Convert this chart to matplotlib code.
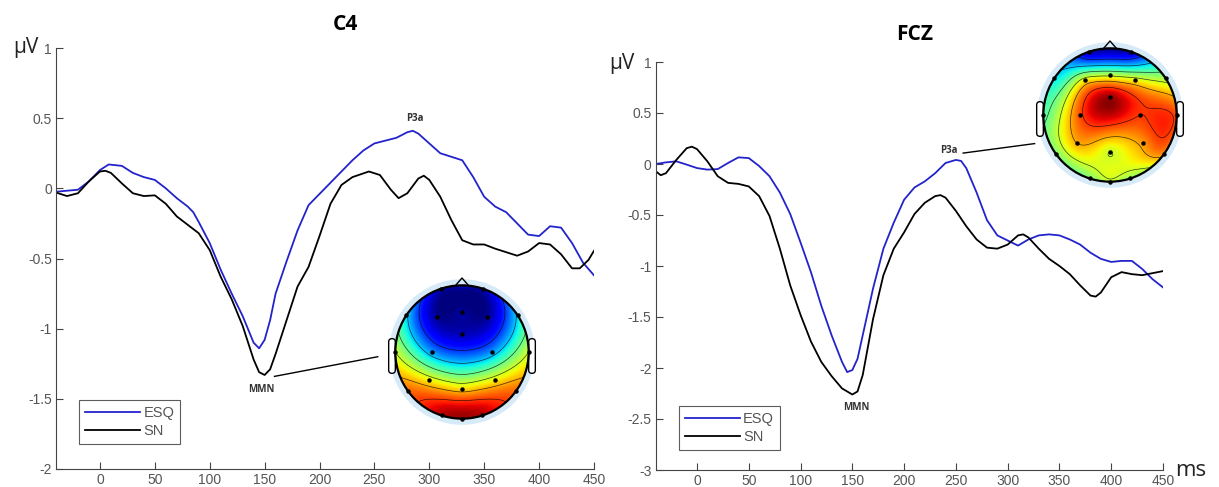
import numpy as np
import matplotlib
matplotlib.use('Agg')
import matplotlib.pyplot as plt
from matplotlib.patches import Circle, FancyBboxPatch

# ---- C4 waveforms (ms, microvolt)
t_c4_esq = [-40, -20, -10, 0, 8, 20, 30, 40, 50, 60, 70, 80, 85, 90, 100, 110, 120, 130,
            140, 145, 150, 155, 160, 170, 180, 190, 200, 210, 220, 230, 240, 250, 260, 270,
            280, 285, 290, 300, 310, 320, 330, 340, 350, 360, 370, 380, 390, 400, 410, 420,
            430, 440, 450]
c4_esq = [-0.024, -0.01, 0.05, 0.13, 0.17, 0.16, 0.11, 0.08, 0.06, 0.0, -0.07, -0.13, -0.17,
          -0.24, -0.39, -0.58, -0.75, -0.91, -1.10, -1.14, -1.08, -0.94, -0.75, -0.52, -0.30,
          -0.12, -0.04, 0.04, 0.12, 0.20, 0.27, 0.32, 0.34, 0.36, 0.40, 0.41, 0.39, 0.32, 0.25,
          0.225, 0.20, 0.08, -0.06, -0.13, -0.17, -0.25, -0.33, -0.34, -0.27, -0.28, -0.39,
          -0.53, -0.62]
t_c4_sn = [-40, -30, -20, -10, 0, 5, 10, 20, 30, 40, 50, 60, 70, 80, 90, 100, 110, 120, 130,
           140, 145, 150, 155, 160, 170, 180, 190, 200, 210, 220, 230, 245, 255, 265, 272, 280,
           290, 295, 300, 310, 320, 330, 340, 350, 360, 370, 380, 390, 400, 410, 420, 430, 437,
           445, 450]
c4_sn = [-0.03, -0.055, -0.035, 0.05, 0.12, 0.125, 0.11, 0.035, -0.035, -0.055, -0.05, -0.11,
         -0.20, -0.26, -0.32, -0.44, -0.63, -0.79, -0.98, -1.22, -1.31, -1.33, -1.29, -1.18,
         -0.94, -0.70, -0.56, -0.34, -0.11, 0.024, 0.08, 0.12, 0.095, -0.01, -0.07, -0.035,
         0.07, 0.09, 0.06, -0.06, -0.225, -0.37, -0.40, -0.40, -0.43, -0.455, -0.48, -0.45,
         -0.39, -0.40, -0.47, -0.57, -0.57, -0.51, -0.445]

# ---- FCZ waveforms
t_fcz_esq = [-40, -30, -20, -10, 0, 10, 20, 30, 40, 50, 60, 70, 80, 90, 100, 110, 120, 130,
             140, 145, 150, 155, 160, 170, 180, 190, 200, 210, 220, 230, 240, 250, 255, 260,
             270, 280, 290, 300, 310, 320, 330, 340, 350, 360, 370, 380, 390, 400, 410, 420,
             430, 440, 450]
fcz_esq = [0.0, 0.016, 0.026, -0.006, -0.04, -0.055, -0.05, 0.01, 0.065, 0.058, -0.02, -0.12,
           -0.28, -0.49, -0.77, -1.06, -1.39, -1.68, -1.94, -2.04, -2.02, -1.91, -1.68, -1.22,
           -0.83, -0.575, -0.35, -0.23, -0.17, -0.09, 0.01, 0.04, 0.03, -0.04, -0.28, -0.55,
           -0.70, -0.75, -0.80, -0.74, -0.70, -0.69, -0.70, -0.74, -0.79, -0.87, -0.93, -0.96,
           -0.95, -0.95, -1.03, -1.13, -1.21]
t_fcz_sn = [-40, -35, -30, -20, -10, -5, 0, 10, 20, 30, 40, 50, 60, 70, 80, 90, 100, 110, 120,
            130, 140, 150, 155, 160, 170, 180, 190, 200, 210, 220, 230, 235, 240, 250, 260,
            270, 280, 290, 300, 310, 315, 320, 330, 340, 350, 360, 370, 380, 385, 390, 400,
            410, 420, 430, 440, 450]
fcz_sn = [-0.07, -0.11, -0.09, 0.04, 0.155, 0.17, 0.146, 0.026, -0.12, -0.185, -0.195, -0.22,
          -0.315, -0.51, -0.83, -1.19, -1.48, -1.74, -1.94, -2.08, -2.20, -2.26, -2.23, -2.07,
          -1.52, -1.09, -0.83, -0.67, -0.49, -0.38, -0.315, -0.305, -0.33, -0.46, -0.61, -0.74,
          -0.82, -0.83, -0.79, -0.70, -0.69, -0.72, -0.83, -0.93, -1.00, -1.08, -1.19, -1.29,
          -1.30, -1.26, -1.11, -1.06, -1.08, -1.09, -1.07, -1.05]

xticks = [0, 50, 100, 150, 200, 250, 300, 350, 400, 450]

# ---- scalp maps: electrode layout and relative amplitudes (-1 .. 1)
elec = ['Fp1', 'Fp2', 'F7', 'F3', 'Fz', 'F4', 'F8', 'FCz', 'T7', 'C3', 'C4', 'T8',
        'P7', 'P3', 'Pz', 'P4', 'P8', 'O1', 'Oz', 'O2']
elec_x = [-0.31, 0.31, -0.84, -0.38, 0.0, 0.38, 0.84, 0.0, -1.0, -0.45, 0.45, 1.0,
          -0.81, -0.5, 0.0, 0.5, 0.81, -0.3, 0.0, 0.3]
elec_y = [0.95, 0.95, 0.55, 0.52, 0.6, 0.52, 0.55, 0.27, 0.0, 0.0, 0.0, 0.0,
          -0.59, -0.42, -0.55, -0.42, -0.59, -0.95, -1.0, -0.95]
map_mmn = [-0.9, -0.9, -0.3, -0.95, -0.95, -0.95, -0.3, -0.9, 0.2, -0.45, -0.45, 0.2,
           0.6, 0.3, 0.35, 0.3, 0.6, 0.9, 0.95, 0.9]
map_p3a = [-0.9, -0.9, -0.3, 0.3, 0.15, 0.3, 0.1, 0.95, -0.1, 0.65, 0.7, 0.65,
           0.0, 0.45, 0.2, 0.5, 0.5, 0.0, 0.15, 0.05]
map_levels = [-0.65, -0.35, -0.05, 0.2, 0.45, 0.7]

W, H = 1219, 487
BLUE = '#2323cc'
GRAY = '#555555'

plt.rcParams['font.family'] = ['Liberation Sans Narrow', 'Liberation Sans', 'DejaVu Sans']

fig = plt.figure(figsize=(W / 100, H / 100), dpi=100)


def px_box(x0, y0, x1, y1):
    # pixel box (top-left origin) -> figure fraction
    return [x0 / W, 1 - y1 / H, (x1 - x0) / W, (y1 - y0) / H]


def erp_axes(box, ylim, yticks):
    ax = fig.add_axes(box)
    ax.set_xlim(-40, 450)
    ax.set_ylim(*ylim)
    ax.set_xticks(xticks)
    ax.set_yticks(yticks)
    ax.set_yticklabels(['%g' % v for v in yticks])
    for s in ['top', 'right']:
        ax.spines[s].set_visible(False)
    for s in ['left', 'bottom']:
        ax.spines[s].set_color('#444444')
        ax.spines[s].set_linewidth(0.8)
    ax.tick_params(direction='in', length=5, width=0.8, colors='#444444',
                   labelcolor=GRAY, labelsize=10, pad=3)
    return ax


def topo(box, vals):
    ax = fig.add_axes(box)
    ax.set_xlim(-1.2, 1.2)
    ax.set_ylim(-1.2, 1.2)
    ax.axis('off')
    ex, ey, ev = np.array(elec_x), np.array(elec_y), np.array(vals)
    # biharmonic spline like griddata 'v4'
    d = np.hypot(ex[:, None] - ex[None, :], ey[:, None] - ey[None, :])
    with np.errstate(divide='ignore', invalid='ignore'):
        g = np.where(d > 0, d ** 2 * (np.log(d) - 1), 0.0)
    w = np.linalg.solve(g, ev)
    gx, gy = np.meshgrid(np.linspace(-1, 1, 201), np.linspace(-1, 1, 201))
    dd = np.hypot(gx[..., None] - ex, gy[..., None] - ey)
    with np.errstate(divide='ignore', invalid='ignore'):
        gg = np.where(dd > 0, dd ** 2 * (np.log(dd) - 1), 0.0)
    z = np.clip(gg @ w, -1, 1)
    z[np.hypot(gx, gy) > 1.0] = np.nan

    ax.add_patch(Circle((0, 0), 1.04, fc='none', ec='#d6eaf8', lw=5, zorder=0))
    for sx in (-1, 1):
        x0 = -1.1 if sx < 0 else 1.0
        ax.add_patch(FancyBboxPatch((x0, -0.32), 0.1, 0.52,
                                    boxstyle='round,pad=0,rounding_size=0.05',
                                    fc='white', ec='k', lw=1, zorder=1))
    im = ax.imshow(z, origin='lower', extent=(-1, 1, -1, 1), cmap='jet',
                   vmin=-1, vmax=1, interpolation='bilinear', zorder=2)
    im.set_clip_path(Circle((0, 0), 1, transform=ax.transData))
    ax.contour(gx, gy, z, levels=map_levels, colors='k', linewidths=0.5,
               linestyles='solid', alpha=0.75, zorder=3)
    ax.add_patch(Circle((0, 0), 1, fc='none', ec='k', lw=1.6, zorder=4))
    ax.plot([-0.1, 0, 0.1], [0.995, 1.11, 0.995], color='k', lw=1, zorder=4)
    ax.plot(ex, ey, 'o', color='k', ms=2.2, zorder=5)
    return ax


def add_legend(ax, anchor):
    leg = ax.legend(loc='lower left', bbox_to_anchor=anchor, borderaxespad=0,
                    fontsize=10.5, handlelength=3.8, handletextpad=0.2, fancybox=False,
                    edgecolor='#333333', borderpad=0.4, labelspacing=0.3)
    leg.get_frame().set_linewidth(0.8)
    for txt in leg.get_texts():
        txt.set_color(GRAY)


lab = dict(ha='center', va='center', fontsize=7, fontweight='bold',
           family=['Open Sans', 'DejaVu Sans'], color='#333333')

# ---------------- C4
ax1 = erp_axes(px_box(56, 48, 594, 469), (-2, 1), [-2, -1.5, -1, -0.5, 0, 0.5, 1])
ax1.plot(t_c4_esq, c4_esq, color=BLUE, lw=1.3, label='ESQ')
ax1.plot(t_c4_sn, c4_sn, color='k', lw=1.3, label='SN')
ax1.text(147, -1.43, 'MMN', **lab)
ax1.plot([159, 253], [-1.34, -1.20], color='k', lw=1)
ax1.text(287, 0.50, 'P3a', **lab)
add_legend(ax1, (0.043, 0.059))

# ---------------- FCZ
ax2 = erp_axes(px_box(655.6, 62, 1163, 470), (-3, 1),
               [-3, -2.5, -2, -1.5, -1, -0.5, 0, 0.5, 1])
ax2.plot(t_fcz_esq, fcz_esq, color=BLUE, lw=1.3, label='ESQ')
ax2.plot(t_fcz_sn, fcz_sn, color='k', lw=1.3, label='SN')
ax2.text(154, -2.39, 'MMN', **lab)
ax2.text(243, 0.13, 'P3a', **lab)
ax2.plot([257, 326], [0.107, 0.20], color='k', lw=1)
add_legend(ax2, (0.046, 0.049))

# scalp maps
topo(px_box(382, 272, 542, 432), map_mmn)
topo(px_box(1030, 35, 1190, 195), map_p3a)

# titles and unit labels
tfont = ['Open Sans', 'DejaVu Sans']
fig.text(345 / W, 1 - 25 / H, 'C4', ha='center', va='center', fontsize=15,
         fontweight='bold', family=tfont)
fig.text(915 / W, 1 - 34 / H, 'FCZ', ha='center', va='center', fontsize=15,
         fontweight='bold', family=tfont)
fig.text(26 / W, 1 - 48 / H, 'μV', ha='center', va='center', fontsize=15,
         family=tfont, color='#222222')
fig.text(622 / W, 1 - 63 / H, 'μV', ha='center', va='center', fontsize=15,
         family=tfont, color='#222222')
fig.text(1191 / W, 1 - 470 / H, 'ms', ha='center', va='center', fontsize=16,
         family=tfont, color='#222222')

fig.savefig('out.png', dpi=100)
